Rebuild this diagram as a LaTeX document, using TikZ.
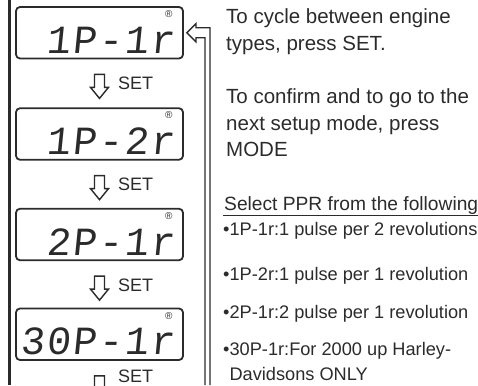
\documentclass[tikz,border=0pt]{standalone}
\usepackage{fontspec}
\setmainfont{Liberation Sans}
\newfontfamily\lcdfont[LetterSpace=5,FakeSlant=0.1]{Liberation Mono}
\usetikzlibrary{calc}
\definecolor{ink}{HTML}{2B2B2B}

\begin{document}
\begin{tikzpicture}[x=1pt,y=-1pt,
    lcd/.style={draw=ink,line width=1.8pt,rounded corners=4pt,minimum width=167pt,minimum height=51.5pt,inner sep=0pt},
    digits/.style={anchor=base east,inner sep=0pt,text=ink,font=\lcdfont\fontsize{40}{40}\selectfont},
    reg/.style={inner sep=0pt,text=ink,font=\fontsize{10}{10}\selectfont},
    down/.style={draw=ink,line width=1.4pt,line join=miter},
    setlabel/.style={anchor=base west,inner sep=0pt,text=ink,font=\fontsize{18}{18}\selectfont},
    note/.style={anchor=base west,inner sep=0pt,align=left,text=ink,font=\fontsize{20.5}{26.5}\selectfont},
    item/.style={anchor=base west,inner sep=0pt,align=left,text=ink,font=\fontsize{18.2}{25}\selectfont},
    ret/.style={draw=ink,line width=1.3pt,line join=miter}]
        
            \useasboundingbox (0,0) rectangle (478,385);
            \clip (0,0) rectangle (478,385);
            
            \draw[ink,line width=2.5pt] (9.5,0) -- (9.5,385);
            
            \node[lcd] (lcd1) at (99.5,32.75) {};
            \node[lcd] (lcd2) at (99.5,134) {};
            \node[lcd] (lcd3) at (99.5,234.5) {};
            \node[lcd] (lcd4) at (99.5,334.25) {};
            
            \node[digits] (d1) at ($(lcd1.south east)+(-9,-6)$) {1P-1r};
            \node[digits] (d2) at ($(lcd2.south east)+(-9,-6)$) {1P-2r};
            \node[digits] (d3) at ($(lcd3.south east)+(-9,-6)$) {2P-1r};
            \node[digits] (d4) at ($(lcd4.south east)+(-9,-6)$) {30P-1r};
            
            \node[reg] (r1) at ($(lcd1.north east)+(-15,8)$) {\textregistered};
            \node[reg] (r2) at ($(lcd2.north east)+(-15,8)$) {\textregistered};
            \node[reg] (r3) at ($(lcd3.north east)+(-15,8)$) {\textregistered};
            \node[reg] (r4) at ($(lcd4.north east)+(-15,8)$) {\textregistered};
            
            % SET steps
            \draw[down] ($(lcd1.south)+(-5,15)$) -- ++(10,0) -- ++(0,13) -- ++(4,0) -- ++(-9,11) -- ++(-9,-11) -- ++(4,0) -- cycle;
            \draw[down] ($(lcd2.south)+(-5,15)$) -- ++(10,0) -- ++(0,13) -- ++(4,0) -- ++(-9,11) -- ++(-9,-11) -- ++(4,0) -- cycle;
            \draw[down] ($(lcd3.south)+(-5,15)$) -- ++(10,0) -- ++(0,13) -- ++(4,0) -- ++(-9,11) -- ++(-9,-11) -- ++(4,0) -- cycle;
            \draw[down] ($(lcd4.south)+(-5,15)$) -- ++(10,0) -- ++(0,13) -- ++(4,0) -- ++(-9,11) -- ++(-9,-11) -- ++(4,0) -- cycle;
            
            \node[setlabel] (s1) at ($(lcd1.south)+(18.5,30)$) {SET};
            \node[setlabel] (s2) at ($(lcd2.south)+(18.5,30)$) {SET};
            \node[setlabel] (s3) at ($(lcd3.south)+(18.5,30)$) {SET};
            \node[setlabel] (s4) at ($(lcd4.south)+(18.5,21.5)$) {SET};
            
            % back to the first type
            \coordinate (tip) at ($(lcd1.east)+(3,0)$);
            \coordinate (back) at (207.5,385);
            \draw[ret] ($(back)+(2.5,0)$) |- ($(tip)+(9,-5)$) -- ++(0,-4) -- (tip) -- ++(9,9) -- ++(0,-4) -| ($(back)+(-2.5,0)$);
            
            % base is the last line
            \node[note] (cycle) at (226,50.5) {To cycle between engine\\types, press SET.};
            \node[note] (mode) at (226,156.5) {To confirm and to go to the\\next setup mode, press\\MODE};
            \node[anchor=base west,inner sep=0pt,text=ink,font=\fontsize{19.2}{19.2}\selectfont] (ppr) at (224,210) {Select PPR from the following};
            \draw[ink,line width=1.3pt] (ppr.base west) ++(-1,5.5) -- (478,215.5);
            
            \node[item] (i1) at (223,235) {•1P-1r:1 pulse per 2 revolutions};
            \node[item] (i2) at (223,280) {•1P-2r:1 pulse per 1 revolution};
            \node[item] (i3) at (223,318) {•2P-1r:2 pulse per 1 revolution};
            \node[item] (i4) at (223,380) {•30P-1r:For 2000 up Harley-\\\hphantom{•}Davidsons ONLY};
            \end{tikzpicture}
\end{document}
